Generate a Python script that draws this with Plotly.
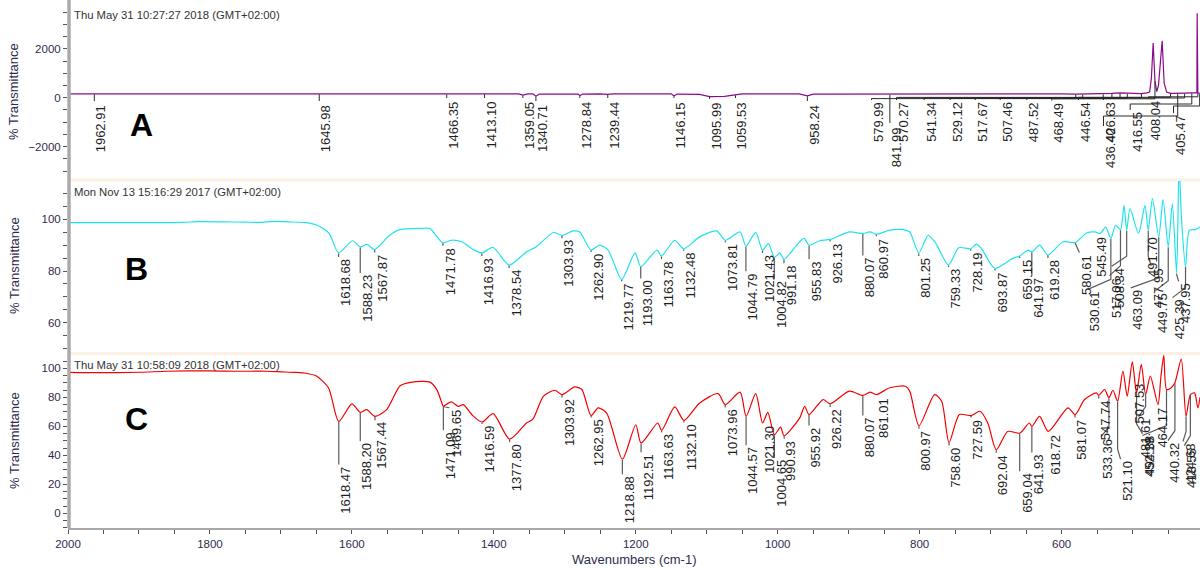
import numpy as np
import plotly.graph_objects as go

# ---------------- spectra: wavenumber (cm-1) / % transmittance ----------------
a_wn = [2000, 1700, 1500, 1380, 1365, 1359.05, 1352, 1345, 1340.71, 1336, 1290, 1281,
        1278.84, 1275, 1250, 1239.44, 1232, 1150, 1146.15, 1142, 1110, 1095.99, 1075,
        1059.53, 1050, 970, 958.24, 950, 850, 841.99, 835, 700, 600, 579.99, 570.27,
        545, 541.34, 529.12, 517.67, 507.46, 487.52, 480, 476, 473.5, 471, 468.49, 466,
        463.5, 461, 458.3, 455.5, 452, 446.54, 436.40, 426.63, 416.55, 412, 409.4,
        409.0, 408.6, 408.04, 405.47]
a_t = [160, 165, 160, 160, 160, 110, 160, 160, 60, 150, 160, 150,
       80, 150, 160, 140, 160, 160, 70, 150, 140, 50, 60,
       120, 160, 160, 80, 150, 160, 140, 160, 165, 160, 150, 150,
       170, 160, 180, 200, 190, 170, 200, 230, 800, 2236, 700, 250,
       500, 1400, 2329, 600, 230, 180, 200, 190, 200, 200, 200,
       3450, 200, 190, 190]

b_wn = [2000, 1880, 1840, 1815, 1780, 1750, 1730, 1710, 1690, 1665, 1649, 1632,
        1618.68, 1599, 1588.23, 1579, 1567.87, 1547, 1532, 1500, 1490, 1471.78, 1460,
        1445, 1429, 1416.93, 1401, 1378.54, 1354, 1340, 1316, 1303.93, 1288, 1279,
        1262.90, 1251, 1239, 1219.77, 1201, 1193.00, 1170, 1163.78, 1145, 1132.48,
        1110, 1086, 1073.81, 1053, 1044.79, 1031, 1021.43, 1013, 1004.82, 997, 991.18,
        975, 963, 955.83, 941, 926.13, 899, 880.07, 870, 860.97, 842, 823, 814, 801.25,
        788, 777, 759.33, 745, 728.19, 720, 713, 693.87, 669, 659.15, 647, 641.97, 631,
        619.28, 598, 580.61, 565, 553, 545.49, 538, 530.61, 524, 517.06, 512, 508.34,
        503.5, 491.70, 482.5, 477.95, 472, 463.09, 457, 449.75, 444, 437.95, 434.5, 431,
        425.39, 420, 412, 405]
b_t = [98.7, 98.7, 98.8, 99.1, 99.0, 98.9, 98.8, 99.2, 99.0, 98.7, 97.7, 94.5,
       87.0, 91.7, 89.3, 90.3, 88.3, 93.8, 96.0, 96.5, 96.4, 90.9, 91.9,
       91.3, 88.3, 87.0, 89.1, 82.3, 87.4, 89.4, 94.9, 93.8, 95.5, 95.1,
       88.1, 90.0, 88.1, 76.8, 87.0, 81.7, 88.1, 85.8, 91.9, 88.6,
       93.2, 95.5, 91.9, 95.1, 89.6, 94.9, 88.1, 90.6, 85.3, 87.0, 84.5,
       89.4, 92.6, 90.0, 91.7, 92.2, 95.1, 94.5, 95.1, 94.2, 95.8, 96.0, 95.1, 87.0,
       93.8, 90.6, 82.3, 89.0, 88.6, 90.4, 88.7, 81.0, 84.9, 85.8, 88.1, 87.4, 90.0,
       86.2, 91.3, 91.0, 94.7, 95.1, 94.5, 97.0, 92.6, 97.7, 96.0, 105.4, 95.8,
       104.1, 94.5, 105.4, 95.8, 108.0, 93.2, 107.6, 89.4, 106.0, 79.1, 121.0, 100.0,
       81.7, 95.8, 96.0, 97.0]

c_wn = [2000, 1960, 1900, 1860, 1800, 1760, 1720, 1700, 1680, 1665, 1650, 1633,
        1618.47, 1600, 1588.20, 1579, 1567.44, 1551, 1532, 1515, 1490, 1480, 1471.09,
        1469.65, 1460, 1450, 1443, 1430, 1416.59, 1401, 1377.80, 1354, 1345, 1330, 1314,
        1303.92, 1286, 1276, 1262.95, 1253, 1241, 1218.88, 1200, 1192.51, 1169, 1163.63,
        1145, 1132.10, 1110, 1084, 1073.96, 1053, 1044.57, 1031, 1021.30, 1014, 1004.65,
        996, 990.93, 969, 962, 955.92, 936, 926.22, 899, 880.07, 870, 861.01, 842, 820,
        814, 800.97, 779, 769, 758.60, 744, 727.59, 715, 704, 692.04, 676, 659.04, 645.5,
        641.93, 631, 618.72, 591, 581.07, 567.6, 551, 547.74, 539.4, 533.36, 527.7,
        521.10, 513.6, 507.53, 500.4, 494.38, 487.7, 481.61, 475, 464.17, 460, 456,
        452.19, 446, 440.32, 431.4, 424.68, 418.55, 412.7, 408, 405]
c_t = [97.2, 97.0, 97.3, 98.0, 98.3, 98.0, 98.0, 97.6, 97.2, 96.6, 94.7, 86.6,
       63.4, 75.5, 69.7, 71.5, 66.9, 71.5, 88.0, 90.5, 90.5, 85.0, 73.8,
       74.2, 76.9, 73.8, 75.0, 67.5, 63.0, 68.8, 51.2, 62.3, 65.0, 80.8, 84.9,
       81.9, 87.2, 85.4, 67.4, 72.7, 69.2, 37.3, 61.1, 48.4, 62.3, 57.2,
       73.4, 64.1, 76.1, 82.6, 75.0, 83.6, 66.9, 82.6, 62.3, 69.7, 54.2,
       59.5, 53.5, 65.8, 73.8, 68.1, 78.5, 75.5, 84.3, 81.3, 83.6, 81.9, 86.6, 87.7,
       84.3, 60.4, 81.9, 77.3, 48.8, 68.1, 67.4, 70.4, 62.3, 43.8, 56.5, 55.3, 62.3,
       59.9, 66.9, 56.5, 72.7, 68.1, 78.5, 83.1, 81.3, 85.4, 79.6, 84.9,
       77.3, 98.1, 80.8, 104.4, 83.1, 102.8, 81.9, 94.7, 75.0, 94.7, 109.0,
       85.4, 86.5, 90.1, 106.3, 66.9, 81.9, 83.1, 72.7, 80.0]

# ---------------- peak picks ----------------
a_peaks = [1962.91, 1645.98, 1466.35, 1413.10, 1359.05, 1340.71, 1278.84, 1239.44,
           1146.15, 1095.99, 1059.53, 958.24, 579.99, 841.99, 570.27, 541.34, 529.12,
           517.67, 507.46, 487.52, 468.49, 446.54, 436.40, 426.63, 416.55, 408.04, 405.47]
b_peaks = [1618.68, 1588.23, 1567.87, 1471.78, 1416.93, 1378.54, 1303.93, 1262.90,
           1219.77, 1193.00, 1163.78, 1132.48, 1073.81, 1044.79, 1021.43, 1004.82, 991.18,
           955.83, 926.13, 880.07, 860.97, 801.25, 759.33, 728.19, 693.87, 659.15, 641.97,
           619.28, 580.61, 545.49, 530.61, 517.06, 508.34, 491.70, 477.95, 463.09, 449.75,
           437.95, 425.39]
c_peaks = [1618.47, 1588.20, 1567.44, 1471.09, 1469.65, 1416.59, 1377.80, 1303.92,
           1262.95, 1218.88, 1192.51, 1163.63, 1132.10, 1073.96, 1044.57, 1021.30, 1004.65,
           990.93, 955.92, 926.22, 880.07, 861.01, 800.97, 758.60, 727.59, 692.04, 659.04,
           641.93, 618.72, 581.07, 547.74, 533.36, 521.10, 507.53, 494.38, 481.61, 464.17,
           452.19, 440.32, 424.68, 418.55]

timestamps = ["Thu May 31 10:27:27 2018 (GMT+02:00)",
              "Mon Nov 13 15:16:29 2017 (GMT+02:00)",
              "Thu May 31 10:58:09 2018 (GMT+02:00)"]
panel_letters = ["A", "B", "C"]

# ---------------- label placement (pixels) ----------------
# A: label centre x (None = beside its own line), label top y, elbow y of leader
a_lab_cx = [None] * 12 + [878, None, 903, 930.7, 956.7, 981.7, 1006.7, 1033.3, 1058.3,
                          1085, 1110, 1110, 1136.7, 1155, 1180]
a_lab_top = [103, 103, 100, 100, 100, 103, 100, 100, 100, 101, 100, 103,
             100, 125, 100, 100, 100, 100, 100, 100, 100.5, 100, 126, 100, 110, 98.5, 113]
a_lab_bar = [None] * 12 + [98.6, None, 97.4, 98.0, 98.4, 97.8, 98.2, 97.6, 98.8, 97.3,
                           116, 98.0, 104, 96.8, 106]
# B / C: leader length below the trough and sideways shift of the text
b_drop = [3, 25, 2, 2, 2, 2, 2, 1, 1, 11, 2, 1, 1, 24, 2, 21, 3, 13, 1, 21, 1, 2, 1, 1, 1,
          1, 23, 2, 9, 0, 50, 45, 35, 0, 35, 50, 43, 7, 30]
b_dx = [0] * 28 + [4, -6, -23, -11, -15, 7, 3, -28, -13, 2, -13]
c_drop = [42, 28, 3, 23, 1, 1, 2, 2, 1, 14, 8, 1, 1, 2, 28, 0, 22, 2, 10, 2, 19, 0, 2, 2,
          1, 2, 37, 25, 0, 2, 2, 38, 57, -16, 40, 21, 0, 45, 57, 24, 50]
c_dx = [0, 0, 0, 0, 5] + [0] * 26 + [-8, 3, 5, 6, -7, -2, -24, -7, -3, -6]

# ---------------- geometry ----------------
W, H = 1200, 568
ML, MB = 68, 40
PLOT_W, PLOT_H = W - ML, H - MB
X_HI, X_LO = 2000, 405
PANELS = {
    "A": dict(yref="y3", top=0, bot=179, lo=-3321, hi=3996),
    "B": dict(yref="y2", top=181, bot=353, lo=48.3, hi=114.8),
    "C": dict(yref="y", top=354, bot=528, lo=-10.1, hi=109.9),
}


def wn_px(w):
    return ML + (X_HI - w) / (X_HI - X_LO) * PLOT_W


def px_wn(p):
    return X_HI - (p - ML) / PLOT_W * (X_HI - X_LO)


def t_py(P, t):
    p = PANELS[P]
    return p["top"] + (p["hi"] - t) / (p["hi"] - p["lo"]) * (p["bot"] - p["top"])


def py_t(P, y):
    p = PANELS[P]
    return p["hi"] - (y - p["top"]) / (p["bot"] - p["top"]) * (p["hi"] - p["lo"])


def paper(px, py):
    return (px - ML) / PLOT_W, (PLOT_H - py) / PLOT_H


def domain(P):
    p = PANELS[P]
    return [(PLOT_H - p["bot"]) / PLOT_H, (PLOT_H - p["top"]) / PLOT_H]


def value_at(wn, t, w):
    return float(np.interp(w, np.asarray(wn)[::-1], np.asarray(t)[::-1]))


FONT = "Liberation Sans, Arial, sans-serif"
TICK_FONT = dict(family=FONT, size=11.5, color="#2d2d4d")
LABEL_FONT = dict(family=FONT, size=13, color="#1e1e1e")
LEADER = "#5a5a5a"

fig = go.Figure()
spectra = {"A": (a_wn, a_t, "#8B0A8B"), "B": (b_wn, b_t, "#1EE3EF"), "C": (c_wn, c_t, "#F40000")}
for P, (wn, t, col) in spectra.items():
    shape = dict(shape="linear") if P == "A" else dict(shape="spline", smoothing=0.7)
    fig.add_trace(go.Scatter(x=wn, y=t, mode="lines", xaxis="x", yaxis=PANELS[P]["yref"],
                             line=dict(color=col, width=1.2, **shape), hoverinfo="skip",
                             showlegend=False))

annotations = []


def add_leader(P, pts):
    xs, ys = [], []
    for px, py in pts:
        xs.append(px_wn(px))
        ys.append(py_t(P, py))
    return xs, ys


# ---- panel A labels ----
lx, ly = [], []
for w, cx, top, bar in zip(a_peaks, a_lab_cx, a_lab_top, a_lab_bar):
    xw = wn_px(w)
    yd = t_py("A", value_at(a_wn, a_t, w))
    if cx is None:
        cx = xw + 6.5
        pts = [(xw, yd + 0.5), (xw, top - 2)]
    else:
        pts = [(xw, yd + 0.5), (xw, bar), (cx - 6.5, bar), (cx - 6.5, top)]
    xs, ys = add_leader("A", pts)
    lx += xs + [None]
    ly += ys + [None]
    annotations.append(dict(x=px_wn(cx), y=py_t("A", top), xref="x", yref="y3",
                            text=f"{w:.2f}", textangle=-90, showarrow=False,
                            xanchor="center", yanchor="top", font=LABEL_FONT))
fig.add_trace(go.Scatter(x=lx, y=ly, mode="lines", xaxis="x", yaxis="y3",
                         line=dict(color="#2a2a2a", width=1), hoverinfo="skip", showlegend=False))

# ---- panels B and C labels ----
for P, peaks, drops, dxs, (wn, t, _) in (("B", b_peaks, b_drop, b_dx, spectra["B"]),
                                        ("C", c_peaks, c_drop, c_dx, spectra["C"])):
    lx, ly = [], []
    for w, drop, dx in zip(peaks, drops, dxs):
        dip = value_at(wn, t, w)
        xw = wn_px(w)
        yd = t_py(P, dip)
        top = yd + drop + 1
        if drop > 0:
            if dx == 0:
                pts = [(xw, yd + 0.5), (xw, top)]
            else:
                knee = top - min(10, drop)
                pts = [(xw, yd + 0.5), (xw, knee), (xw + dx, top)]
            xs, ys = add_leader(P, pts)
            lx += xs + [None]
            ly += ys + [None]
        annotations.append(dict(x=px_wn(xw + 7 + dx), y=py_t(P, top), xref="x",
                                yref=PANELS[P]["yref"], text=f"{w:.2f}", textangle=-90,
                                showarrow=False, xanchor="center", yanchor="top",
                                font=LABEL_FONT))
    fig.add_trace(go.Scatter(x=lx, y=ly, mode="lines", xaxis="x", yaxis=PANELS[P]["yref"],
                             line=dict(color=LEADER, width=1.2), hoverinfo="skip",
                             showlegend=False))

# ---- panel furniture: time stamps, letters, axis titles ----
stamp_y = {"A": 15, "B": 191.5, "C": 365}
letter_pos = {"A": (141.5, 125), "B": (136, 269), "C": (136, 419)}
title_y = {"A": 92, "B": 266, "C": 441}
for P, stamp, letter in zip("ABC", timestamps, panel_letters):
    x0, y0 = paper(72, stamp_y[P])
    annotations.append(dict(x=x0, y=y0, xref="paper", yref="paper", text=stamp,
                            showarrow=False, xanchor="left", yanchor="middle",
                            font=dict(family=FONT, size=11.3, color="#333333")))
    x1, y1 = paper(*letter_pos[P])
    annotations.append(dict(x=x1, y=y1, xref="paper", yref="paper", text=f"<b>{letter}</b>",
                            showarrow=False, xanchor="center", yanchor="middle",
                            font=dict(family=FONT, size=32, color="#000000")))
    x2, y2 = paper(14, title_y[P])
    annotations.append(dict(x=x2, y=y2, xref="paper", yref="paper", text="% Transmittance",
                            textangle=-90, showarrow=False, xanchor="center",
                            yanchor="middle", font=dict(family=FONT, size=13, color="#2d2d4d")))

xt, yt = paper(634, 559)
annotations.append(dict(x=xt, y=yt, xref="paper", yref="paper", text="Wavenumbers (cm-1)",
                        showarrow=False, xanchor="center", yanchor="middle",
                        font=dict(family=FONT, size=13, color="#2d2d4d")))

shapes = []
for py in (180, 353.5):
    _, ys = paper(0, py)
    shapes.append(dict(type="line", xref="paper", yref="paper", x0=0.002, x1=1, y0=ys, y1=ys,
                       line=dict(color="#FBF0E2", width=3), layer="below"))
xa, _ = paper(69, 0)
shapes.append(dict(type="line", xref="paper", yref="paper", x0=xa, x1=xa, y0=0, y1=1,
                   line=dict(color="#ABABAB", width=3.5)))

yaxis_common = dict(showgrid=False, zeroline=False, showline=False, ticks="outside",
                    ticklen=4, tickwidth=1, tickcolor="#555555", tickfont=TICK_FONT,
                    anchor="x", fixedrange=True)


def yax(P, dtick, minor):
    p = PANELS[P]
    return dict(yaxis_common, domain=domain(P), range=[p["lo"], p["hi"]], tick0=0,
                dtick=dtick, minor=dict(dtick=minor, tick0=0, ticks="outside", ticklen=4,
                                        tickcolor="#555555", showgrid=False))


fig.update_layout(
    width=W, height=H,
    margin=dict(l=ML, r=0, t=0, b=MB),
    paper_bgcolor="white", plot_bgcolor="white",
    showlegend=False,
    xaxis=dict(domain=[0, 1], range=[X_HI, X_LO], anchor="y", showgrid=False, zeroline=False,
               showline=True, linecolor="#A8A8A8", linewidth=2, ticks="outside", ticklen=4,
               tickcolor="#555555", tick0=0, dtick=200, tickfont=TICK_FONT,
               minor=dict(dtick=50, tick0=0, ticks="outside", ticklen=4, tickcolor="#555555",
                          showgrid=False)),
    yaxis=yax("C", 20, 5),
    yaxis2=yax("B", 20, 5),
    yaxis3=yax("A", 2000, 500),
    annotations=annotations,
    shapes=shapes,
)

fig.write_html("out.html")
